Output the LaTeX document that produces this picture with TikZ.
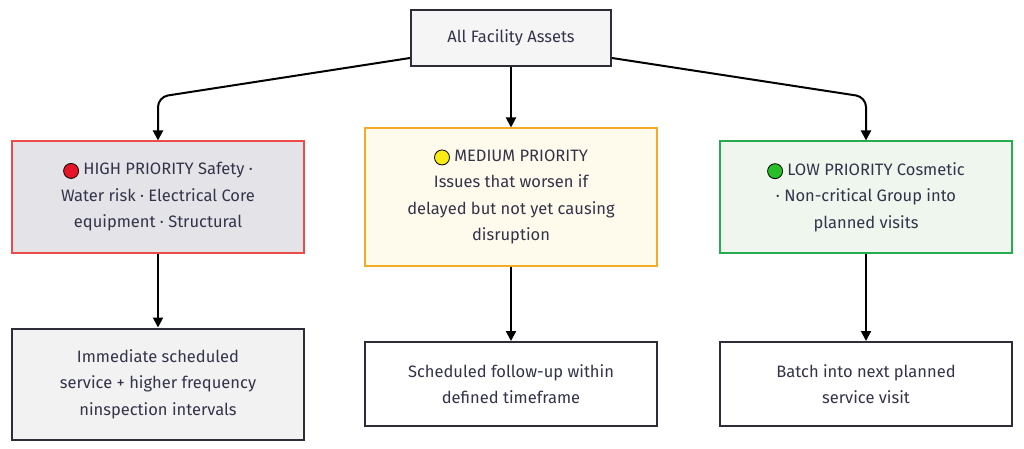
\documentclass[tikz,border=0pt]{standalone}
\usepackage{fontspec}
\setmainfont{Fira Sans}
\usetikzlibrary{arrows.meta}
\definecolor{txt}{HTML}{33334A}
\definecolor{edge}{HTML}{2D2D3A}
\begin{document}
\begin{tikzpicture}[x=1pt,y=-1pt,
  box/.style={draw=edge,line width=2pt,minimum width=292pt,align=center,text=txt,font=\fontsize{16.5}{26.5}\selectfont,inner sep=4pt},
  arr/.style={-{Triangle[length=10pt,width=10pt]},line width=2pt,black,rounded corners=10pt},
  dot/.style={circle,draw=black,line width=0.8pt,inner sep=0pt,minimum size=15pt}]
\useasboundingbox (0,0) rectangle (1024,449);
\node[box,fill=gray!8,minimum width=200pt,minimum height=56pt] (top) at (511,38) {All Facility Assets};
\node[box,draw={rgb,255:red,235;green,75;blue,75},fill={rgb,255:red,228;green,228;blue,232},minimum height=111pt] (high) at (158,197)
 {\tikz[baseline=-4pt]\node[dot,fill={rgb,255:red,230;green,20;blue,40}]{};~HIGH PRIORITY Safety ·\\Water risk · Electrical Core\\equipment · Structural};
\node[box,draw={rgb,255:red,245;green,170;blue,40},fill={rgb,255:red,255;green,251;blue,236},minimum height=137pt] (med) at (511,197)
 {\tikz[baseline=-4pt]\node[dot,fill={rgb,255:red,250;green,235;blue,20}]{};~MEDIUM PRIORITY\\Issues that worsen if\\delayed but not yet causing\\disruption};
\node[box,draw={rgb,255:red,40;green,170;blue,80},fill={rgb,255:red,238;green,246;blue,238},minimum height=111pt] (low) at (866,197)
 {\tikz[baseline=-4pt]\node[dot,fill={rgb,255:red,40;green,190;blue,40}]{};~LOW PRIORITY Cosmetic\\· Non-critical Group into\\planned visits};
\node[box,fill=gray!10,minimum height=111pt] (b1) at (158,384) {Immediate scheduled\\service + higher frequency\\ninspection intervals};
\node[box,fill=white,minimum height=84pt] (b2) at (511,384) {Scheduled follow-up within\\defined timeframe};
\node[box,fill=white,minimum height=84pt] (b3) at (866,384) {Batch into next planned\\service visit};
\draw[arr] (top.west|-0,58) -- (158,97) -- (high.north);
\draw[arr] (top.east|-0,58) -- (866,97) -- (low.north);
\draw[arr] (top.south) -- (med.north);
\draw[arr] (high.south) -- (b1.north);
\draw[arr] (med.south) -- (b2.north);
\draw[arr] (low.south) -- (b3.north);
\end{tikzpicture}
\end{document}
